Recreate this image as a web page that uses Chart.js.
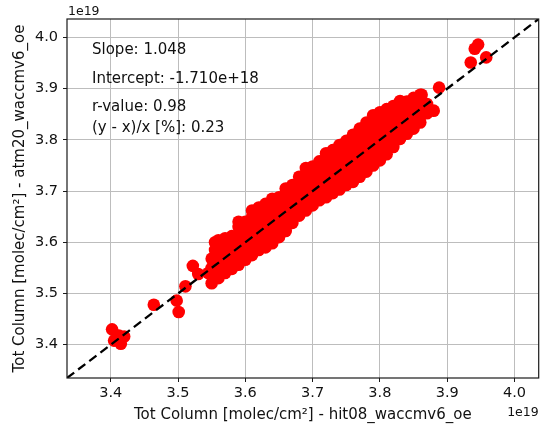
<!DOCTYPE html>
<html>
<head>
<meta charset="UTF-8" />
<title>Tot Column scatter</title>
<script src="https://cdn.jsdelivr.net/npm/chart.js"></script>
<style>
html, body { margin:0; padding:0; background:#fff; }
</style>
</head>
<body>
<canvas id="chart" width="545" height="424"></canvas>

<script>
// columns in units of 1e19 molec/cm2
const tickVals = [3.4, 3.5, 3.6, 3.7, 3.8, 3.9, 4.0];
const axisMin = 3.335;
const axisMax = 4.036;

// dense band: one x per column, several y values per column
const bandX = [3.550, 3.555, 3.560, 3.570, 3.580, 3.590, 3.600, 3.610, 3.620, 3.630,
               3.640, 3.650, 3.660, 3.670, 3.680, 3.690, 3.700, 3.710, 3.720, 3.730,
               3.740, 3.750, 3.760, 3.770, 3.780, 3.790, 3.800, 3.810, 3.820, 3.830,
               3.840, 3.850, 3.860, 3.870];
const bandY = [
  [3.520, 3.535, 3.550, 3.568],
  [3.545, 3.585, 3.600],
  [3.530, 3.548, 3.562, 3.578, 3.592, 3.604],
  [3.540, 3.555, 3.570, 3.585, 3.600, 3.608],
  [3.548, 3.562, 3.578, 3.592, 3.606, 3.612],
  [3.556, 3.570, 3.585, 3.600, 3.615, 3.630, 3.640],
  [3.566, 3.580, 3.595, 3.610, 3.625, 3.640],
  [3.575, 3.590, 3.605, 3.620, 3.635, 3.650, 3.662],
  [3.585, 3.600, 3.615, 3.630, 3.645, 3.660, 3.668],
  [3.590, 3.605, 3.620, 3.635, 3.650, 3.665, 3.675],
  [3.598, 3.612, 3.628, 3.644, 3.660, 3.675, 3.685],
  [3.610, 3.625, 3.640, 3.655, 3.670, 3.688],
  [3.622, 3.636, 3.650, 3.665, 3.680, 3.695, 3.705],
  [3.638, 3.652, 3.666, 3.680, 3.695, 3.712],
  [3.652, 3.665, 3.680, 3.695, 3.710, 3.728],
  [3.662, 3.676, 3.690, 3.705, 3.720, 3.735, 3.745],
  [3.672, 3.686, 3.700, 3.715, 3.730, 3.748],
  [3.682, 3.696, 3.710, 3.725, 3.740, 3.758],
  [3.688, 3.702, 3.718, 3.734, 3.750, 3.765, 3.774],
  [3.696, 3.710, 3.726, 3.742, 3.758, 3.772, 3.780],
  [3.703, 3.718, 3.734, 3.750, 3.766, 3.780, 3.790],
  [3.712, 3.725, 3.742, 3.758, 3.774, 3.790, 3.798],
  [3.718, 3.734, 3.750, 3.766, 3.782, 3.798, 3.810],
  [3.728, 3.744, 3.760, 3.776, 3.792, 3.808, 3.822],
  [3.738, 3.754, 3.770, 3.786, 3.802, 3.818, 3.834],
  [3.750, 3.766, 3.782, 3.798, 3.814, 3.830, 3.848],
  [3.760, 3.776, 3.792, 3.808, 3.824, 3.840, 3.854],
  [3.772, 3.788, 3.804, 3.820, 3.836, 3.850, 3.860],
  [3.786, 3.802, 3.818, 3.834, 3.850, 3.866],
  [3.802, 3.818, 3.834, 3.850, 3.865, 3.876],
  [3.812, 3.828, 3.844, 3.860, 3.875],
  [3.822, 3.838, 3.854, 3.870, 3.882],
  [3.834, 3.850, 3.866, 3.880, 3.888],
  [3.852, 3.870]
];

// isolated points at the low end
const lowX = [3.402, 3.405, 3.415, 3.420, 3.412, 3.464, 3.498, 3.501, 3.511, 3.522, 3.530, 3.545];
const lowY = [3.430, 3.408, 3.402, 3.416, 3.418, 3.478, 3.486, 3.464, 3.514, 3.554, 3.538, 3.540];

// isolated points at the high end
const highX = [3.859, 3.880, 3.862, 3.888, 3.935, 3.946, 3.941, 3.958];
const highY = [3.838, 3.857, 3.888, 3.902, 3.951, 3.986, 3.978, 3.961];

const statLines = ['Slope: 1.048', 'Intercept: -1.710e+18', 'r-value: 0.98', '(y - x)/x [%]: 0.23'];
const statY = [50, 79, 107, 128];

const points = [];
bandX.forEach((x, i) => bandY[i].forEach(y => points.push({ x, y })));
lowX.forEach((x, i) => points.push({ x, y: lowY[i] }));
highX.forEach((x, i) => points.push({ x, y: highY[i] }));

const FONT = 'DejaVu Sans';

const overlay = {
  id: 'overlay',
  afterDatasetsDraw(chart) {
    const { ctx, chartArea: a } = chart;
    ctx.save();
    // axes frame
    ctx.strokeStyle = '#1a1a1a';
    ctx.lineWidth = 1.2;
    ctx.strokeRect(a.left, a.top, a.right - a.left, a.bottom - a.top);

    // regression stats
    ctx.fillStyle = '#111';
    ctx.font = '15px "' + FONT + '"';
    ctx.textBaseline = 'middle';
    ctx.textAlign = 'left';
    statLines.forEach((t, i) => ctx.fillText(t, 92, statY[i]));

    // offset labels
    ctx.font = '12.5px "' + FONT + '"';
    ctx.textBaseline = 'alphabetic';
    ctx.fillText('1e19', a.left + 1, 15);
    ctx.textAlign = 'right';
    ctx.fillText('1e19', a.right, 416);
    ctx.restore();
  }
};

function axisOpts(title, isY) {
  return {
    type: 'linear',
    min: axisMin,
    max: axisMax,
    afterBuildTicks: s => { s.ticks = tickVals.map(v => ({ value: v })); },
    afterFit: s => { if (isY) s.width = 67; else s.height = 46; },
    ticks: {
      color: '#111',
      font: { family: FONT, size: 14.5 },
      padding: isY ? 5 : 3,
      callback: v => Number(v).toFixed(1)
    },
    grid: { color: '#bdbdbd', lineWidth: 1, tickColor: '#1a1a1a', tickLength: 4 },
    border: { display: false },
    title: {
      display: true,
      text: title,
      color: '#111',
      font: { family: FONT, size: 15 },
      padding: isY ? { top: 11, bottom: 0 } : { top: 3, bottom: 0 }
    }
  };
}

new Chart(document.getElementById('chart'), {
  type: 'scatter',
  data: {
    datasets: [
      {
        type: 'line',
        data: [{ x: axisMin, y: axisMin }, { x: axisMax, y: axisMax }],
        borderColor: '#000',
        borderWidth: 2.3,
        borderDash: [9, 5],
        pointRadius: 0,
        order: 0
      },
      {
        data: points,
        backgroundColor: '#ff0000',
        borderWidth: 0,
        pointRadius: 6.3,
        order: 1
      }
    ]
  },
  options: {
    responsive: false,
    animation: false,
    layout: { padding: { left: 0, right: 2, top: 19, bottom: 0 } },
    plugins: { legend: { display: false }, tooltip: { enabled: false } },
    scales: {
      x: axisOpts('Tot Column [molec/cm²] - hit08_waccmv6_oe', false),
      y: axisOpts('Tot Column [molec/cm²] - atm20_waccmv6_oe', true)
    }
  },
  plugins: [overlay]
});
</script>
</body>
</html>
